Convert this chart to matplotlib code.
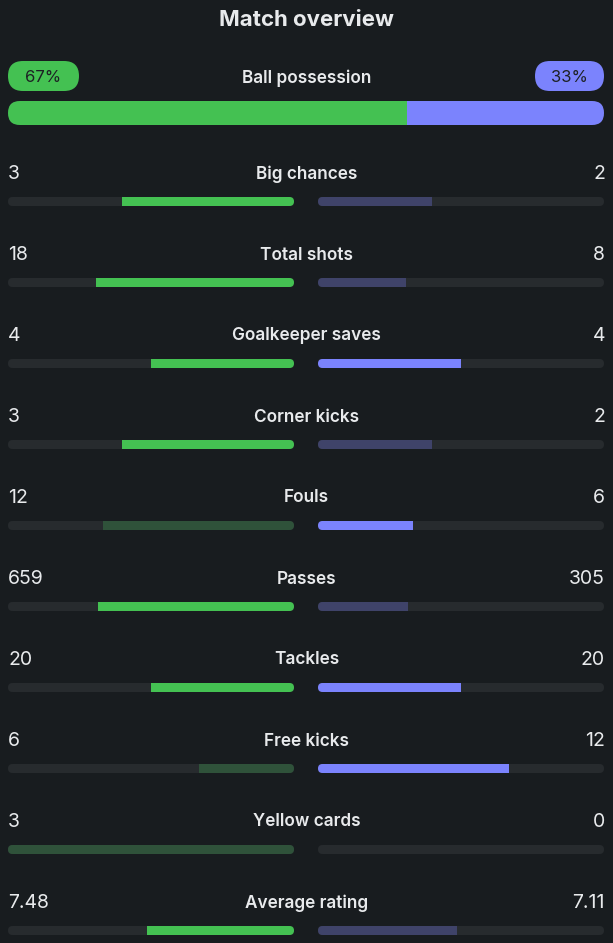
import matplotlib.pyplot as plt
from matplotlib.patches import FancyBboxPatch, Rectangle

# data
possession_home = 67
possession_away = 33
stat_names = ["Big chances", "Total shots", "Goalkeeper saves", "Corner kicks", "Fouls",
              "Passes", "Tackles", "Free kicks", "Yellow cards", "Average rating"]
home_labels = ["3", "18", "4", "3", "12", "659", "20", "6", "3", "7.48"]
away_labels = ["2", "8", "4", "2", "6", "305", "20", "12", "0", "7.11"]
home_vals = [3, 18, 4, 3, 12, 659, 20, 6, 3, 7.48]
away_vals = [2, 8, 4, 2, 6, 305, 20, 12, 0, 7.11]
lower_better = [False, False, False, False, True, False, False, False, True, False]

# colours
BG = "#181c1f"
TRACK = "#272b2e"
GREEN = "#44c152"
GREEN_DIM = "#2f523a"
PURPLE = "#7b83fd"
PURPLE_DIM = "#3f4369"
TEXT = "#e8eaec"

plt.rcParams['font.family'] = ['Inter', 'DejaVu Sans']

fig = plt.figure(figsize=(6.13, 9.43), dpi=100, facecolor=BG)
ax = fig.add_axes([0, 0, 1, 1])
ax.set_facecolor(BG)
ax.set_xlim(0, 613)
ax.set_ylim(943, 0)
ax.axis("off")

L0, L1 = 8, 294      # home track
R0, R1 = 318, 604    # away track
BAR_H = 9


def rounded(x, y, w, h, color, r):
    p = FancyBboxPatch((x, y), w, h, boxstyle=f"round,pad=0,rounding_size={r}",
                       fc=color, ec="none", mutation_aspect=1)
    ax.add_patch(p)
    return p


ax.text(306.5, 20, "Match overview", ha="center", va="center", color=TEXT,
        fontsize=16, fontweight="bold")

# possession
rounded(8, 61, 71, 30, GREEN, 15)
rounded(535, 61, 69, 30, PURPLE, 15)
ax.text(43.5, 78, f"{possession_home}%", ha="center", va="center", color="#1d2124", fontsize=12)
ax.text(569.5, 78, f"{possession_away}%", ha="center", va="center", color="#1d2124", fontsize=12)
ax.text(306.5, 78, "Ball possession", ha="center", va="center", color=TEXT,
        fontsize=12.4, fontweight="semibold")
track = rounded(8, 101, 596, 24, TRACK, 12)
split = 8 + 596 * possession_home / (possession_home + possession_away)
g = ax.add_patch(Rectangle((8, 101), split - 8, 24, fc=GREEN, ec="none"))
g.set_clip_path(track)
p = ax.add_patch(Rectangle((split, 101), 604 - split, 24, fc=PURPLE, ec="none"))
p.set_clip_path(track)

# stat rows
for i, name in enumerate(stat_names):
    yt = 174 + 81 * i
    yb = yt + 23
    h, a = home_vals[i], away_vals[i]
    tot = h + a
    fh = h / tot if tot else 0
    fa = a / tot if tot else 0
    if h == a:
        home_c, away_c = GREEN, PURPLE
    elif (h > a) != lower_better[i]:
        home_c, away_c = GREEN, PURPLE_DIM
    else:
        home_c, away_c = GREEN_DIM, PURPLE

    ax.text(8, yt, home_labels[i], ha="left", va="center", color=TEXT, fontsize=14)
    ax.text(605, yt, away_labels[i], ha="right", va="center", color=TEXT, fontsize=14)
    ax.text(306.5, yt, name, ha="center", va="center", color=TEXT,
            fontsize=12.4, fontweight="semibold")

    lt = rounded(L0, yb, L1 - L0, BAR_H, TRACK, 4.5)
    w = (L1 - L0) * fh
    r = ax.add_patch(Rectangle((L1 - w, yb), w, BAR_H, fc=home_c, ec="none"))
    r.set_clip_path(lt)

    rt = rounded(R0, yb, R1 - R0, BAR_H, TRACK, 4.5)
    w = (R1 - R0) * fa
    r = ax.add_patch(Rectangle((R0, yb), w, BAR_H, fc=away_c, ec="none"))
    r.set_clip_path(rt)

fig.savefig("out.png", dpi=100, facecolor=BG)
